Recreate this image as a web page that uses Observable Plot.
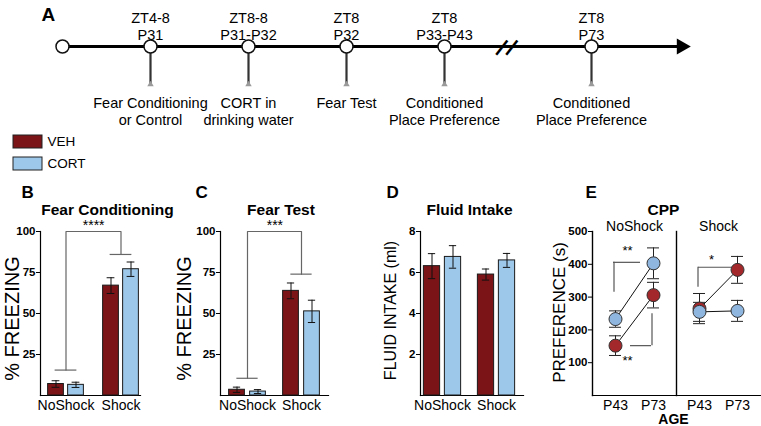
<!DOCTYPE html>
<html><head><meta charset="utf-8">
<script src="https://cdn.jsdelivr.net/npm/d3@7"></script>
<script src="https://cdn.jsdelivr.net/npm/@observablehq/plot@0.6"></script>
<style>
body{margin:0;background:#fff;}
#wrap{position:relative;width:761px;height:426px;overflow:hidden;background:#fff;font-family:"Liberation Sans",Arial,Helvetica,sans-serif;}
#wrap svg{position:absolute;overflow:visible;}
#wrap g[aria-label="y-axis tick label"]{font-weight:bold;}
</style></head><body><div id="wrap"></div>
<script>
// ---------- DATA ----------
const treatments = ["VEH", "CORT"];
const barColors = ["#7b1417", "#9ec8ea"];
const dotColors = ["#a3282b", "#8fb6df"];
const conditions = ["NoShock", "Shock"];

// Timeline (panel A): ordinal schedule slots (gaps are empty slots)
const timelineSlots = ["fc", "gap1", "cort", "gap2", "ft", "gap3", "cpp1", "break", "gap4", "cpp2"];
const tlSlot = ["fc", "cort", "ft", "cpp1", "cpp2"];
const tlZT = ["ZT4-8", "ZT8-8", "ZT8", "ZT8", "ZT8"];
const tlAge = ["P31", "P31-P32", "P32", "P33-P43", "P73"];
const tlWhat = ["Fear Conditioning\nor Control", "CORT in\ndrinking water", "Fear Test", "Conditioned\nPlace Preference", "Conditioned\nPlace Preference"];

// Panel B: Fear Conditioning (% freezing), order NoShock, Shock
const fcVEH = [7, 67], fcVEHerr = [2, 4.8];
const fcCORT = [6.5, 77], fcCORTerr = [1.6, 4.4];
const fcBracket = [["NoShock", 15.5], ["NoShock", 100], ["Shock", 100], ["Shock", 86]];
const fcStars = "****";

// Panel C: Fear Test
const ftVEH = [3.5, 63.8], ftVEHerr = [1.6, 4.8];
const ftCORT = [2.4, 51.3], ftCORTerr = [1.2, 6.8];
const ftBracket = [["NoShock", 10.5], ["NoShock", 100], ["Shock", 100], ["Shock", 74]];
const ftStars = "***";

// Panel D: Fluid intake (ml)
const fiVEH = [6.31, 5.9], fiVEHerr = [0.61, 0.27];
const fiCORT = [6.76, 6.59], fiCORTerr = [0.55, 0.34];

// Panel E: CPP preference (s); order NoShock-P43, NoShock-P73, Shock-P43, Shock-P73
const ages = ["P43", "P73"];
const cppCond = ["NoShock", "NoShock", "Shock", "Shock"];
const cppAge = ["P43", "P73", "P43", "P73"];
const cppVEH = [152, 306, 265, 383], cppVEHerr = [30, 39, 46, 41];
const cppCORT = [233, 403, 255, 258], cppCORTerr = [25, 47, 29, 32];
const cppBracketV = [["NoShock", "P43", 315, 406], ["NoShock", "P73", 152, 249], ["Shock", "P43", 330, 391]];
const cppBracketH = [["NoShock", 406], ["NoShock", 152], ["Shock", 391]];
const cppStars = [["NoShock", 427, "**"], ["NoShock", 94, "**"], ["Shock", 402, "*"]];

// ---------- HELPERS ----------
const FONT = "'Liberation Sans', Arial, Helvetica, sans-serif";
const wrap = document.getElementById("wrap");
function place(el, left, top) {
  el.style.position = "absolute";
  el.style.left = left + "px";
  el.style.top = top + "px";
  el.style.background = "transparent";
  el.style.fontFamily = FONT;
  el.style.overflow = "visible";
  el.style.maxWidth = "none";
  wrap.appendChild(el);
}
function rowsOf(vm, ve, cm, ce) {
  const out = [];
  conditions.forEach((c, i) => {
    out.push({cond: c, trt: "VEH", mean: vm[i], err: ve[i]});
    out.push({cond: c, trt: "CORT", mean: cm[i], err: ce[i]});
  });
  return out;
}

// ---------- PANEL A: timeline ----------
const tlEvents = tlSlot.map((s, i) => ({slot: s, zt: tlZT[i], age: tlAge[i], what: tlWhat[i]}));
const slash = {x: () => "break", y: () => 0, text: () => "|", rotate: 38, fontSize: 19, fontWeight: "bold", lineAnchor: "middle"};
const timeline = Plot.plot({
  width: 761, height: 130, marginLeft: 62, marginRight: 76, marginTop: 0, marginBottom: 0,
  x: {type: "point", domain: timelineSlots, range: [147, 594], padding: 0, axis: null},
  y: {domain: [0, 1], range: [46, 85], axis: null},
  marks: [
    Plot.ruleY([0], {y: d => d, stroke: "#000", strokeWidth: 3, insetRight: 4}),
    Plot.ruleX(tlEvents, {x: "slot", y1: () => 0, y2: () => 1, stroke: "#333", strokeWidth: 2.2}),
    Plot.dot(tlEvents, {x: "slot", y: () => 1, symbol: "triangle", r: 2.4, fill: "#9a9a9a", dy: -1}),
    Plot.dot([0], {y: d => d, frameAnchor: "left", r: 6.5, fill: "white", stroke: "#111", strokeWidth: 1.5}),
    Plot.dot(tlEvents, {x: "slot", y: () => 0, r: 6.5, fill: "white", stroke: "#111", strokeWidth: 1.5}),
    Plot.dot([0], {y: d => d, frameAnchor: "right", symbol: "triangle", rotate: 90, r: 6, fill: "#000", stroke: "none", dx: -4}),
    Plot.text([0], {...slash, dx: 9}),
    Plot.text([0], {...slash, dx: 19}),
    Plot.text(tlEvents, {x: "slot", y: () => 0, text: d => d.zt + "\n" + d.age, lineAnchor: "bottom", dy: -7, fontSize: 14.5, lineHeight: 1.17}),
    Plot.text(tlEvents, {x: "slot", y: () => 1, text: "what", lineAnchor: "top", dy: 10, fontSize: 14.5, lineHeight: 1.17}),
    Plot.text(["A"], {text: d => d, frameAnchor: "top-left", textAnchor: "start", lineAnchor: "bottom", dx: -21, dy: 20, fontSize: 19, fontWeight: "bold"})
  ]
});
place(timeline, 0, 0);

// ---------- Legend ----------
const legend = Plot.plot({
  width: 80, height: 45, marginLeft: 0, marginTop: 0, marginRight: 51, marginBottom: 0,
  x: {axis: null},
  y: {type: "band", domain: treatments, range: [5, 40], paddingInner: 0.41, paddingOuter: 0, axis: null},
  color: {domain: treatments, range: barColors},
  marks: [
    Plot.cell(treatments, {y: d => d, fill: d => d, stroke: "#222", strokeWidth: 1}),
    Plot.text(treatments, {y: d => d, text: d => d, frameAnchor: "right", textAnchor: "start", dx: 5, fontSize: 13.5})
  ]
});
place(legend, 13, 130);

// ---------- Bar panels ----------
function barPanel(p) {
  const step = p.c1 - p.c0, half = step / 2, off = p.gap / 2 + p.bw / 2, capW = 4;
  const veh = p.rows.filter(d => d.trt === "VEH"), cort = p.rows.filter(d => d.trt === "CORT");
  const marks = [
    Plot.frame({anchor: "left", strokeWidth: 1.2}),
    Plot.frame({anchor: "bottom", strokeWidth: 1.2}),
    Plot.axisY({ticks: p.ticks, tickSize: 4, tickPadding: 1, fontSize: 11.5, fontWeight: "bold", label: null}),
    Plot.axisX({tickSize: 0, tickPadding: 5, fontSize: 14, label: null}),
    Plot.barY(veh, {x: "cond", y: "mean", fill: "trt", stroke: "#1a1a1a", strokeWidth: 1, insetLeft: half - p.gap / 2 - p.bw, insetRight: half + p.gap / 2}),
    Plot.barY(cort, {x: "cond", y: "mean", fill: "trt", stroke: "#1a1a1a", strokeWidth: 1, insetLeft: half + p.gap / 2, insetRight: half - p.gap / 2 - p.bw})
  ];
  for (const [data, s] of [[veh, -1], [cort, 1]]) {
    marks.push(Plot.ruleX(data, {x: "cond", y1: d => d.mean - d.err, y2: d => d.mean + d.err, dx: s * off, stroke: "#111", strokeWidth: 1}));
    const insL = s < 0 ? half - off - capW : half + off - capW;
    const insR = s < 0 ? half + off - capW : half - off - capW;
    for (const f of [d => d.mean - d.err, d => d.mean + d.err]) {
      marks.push(Plot.tickY(data, {x: "cond", y: f, insetLeft: insL, insetRight: insR, stroke: "#111", strokeWidth: 1}));
    }
  }
  if (p.bracket) {
    const br = p.bracket.map(([cond, v]) => ({cond, v}));
    marks.push(Plot.line(br, {x: "cond", y: "v", stroke: "#666", strokeWidth: 1.2}));
    marks.push(Plot.tickY([br[0], br[br.length - 1]], {x: "cond", y: "v", insetLeft: half - 11, insetRight: half - 11, stroke: "#666", strokeWidth: 1.2}));
    marks.push(Plot.text([{cond: conditions[0], v: p.yMax, t: p.stars}], {x: "cond", y: "v", text: "t", dx: half, dy: -2, lineAnchor: "bottom", fontSize: 14}));
  }
  marks.push(Plot.text([p.letter], {text: d => d, frameAnchor: "top-left", textAnchor: "start", lineAnchor: "bottom", dx: p.letterDx, dy: -34, fontSize: 17, fontWeight: "bold"}));
  marks.push(Plot.text([p.title], {text: d => d, frameAnchor: "top", textAnchor: "middle", lineAnchor: "bottom", dx: p.titleDx, dy: -17, fontSize: 15.5, fontWeight: "bold"}));
  marks.push(Plot.text([p.ylabel], {text: d => d, frameAnchor: "left", textAnchor: "middle", rotate: -90, lineAnchor: "bottom", dx: p.ylabelDx, dy: p.ylabelDy, fontSize: p.ylabelSize}));
  const chart = Plot.plot({
    width: p.width, height: 246, marginLeft: p.mL, marginRight: p.mR, marginTop: 51, marginBottom: 31,
    x: {type: "band", domain: conditions, range: [p.mL + p.c0 - half, p.mL + p.c1 + half], padding: 0, label: null},
    y: {domain: [0, p.yMax], label: null},
    color: {domain: treatments, range: barColors},
    marks
  });
  place(chart, p.left, 180);
}

barPanel({left: 0, width: 190, mL: 40, mR: 50, c0: 25.5, c1: 80.75, bw: 16, gap: 4, yMax: 100, ticks: [25, 50, 75, 100],
  rows: rowsOf(fcVEH, fcVEHerr, fcCORT, fcCORTerr), bracket: fcBracket, stars: fcStars,
  letter: "B", letterDx: -19, title: "Fear Conditioning", titleDx: 17, ylabel: "% FREEZING", ylabelDx: -22, ylabelDy: 5, ylabelSize: 20});
barPanel({left: 180, width: 190, mL: 40, mR: 42, c0: 26.75, c1: 81.5, bw: 16.5, gap: 4.5, yMax: 100, ticks: [25, 50, 75, 100],
  rows: rowsOf(ftVEH, ftVEHerr, ftCORT, ftCORTerr), bracket: ftBracket, stars: ftStars,
  letter: "C", letterDx: -25, title: "Fear Test", titleDx: 6.5, ylabel: "% FREEZING", ylabelDx: -30, ylabelDy: 5, ylabelSize: 20});
barPanel({left: 370, width: 190, mL: 50, mR: 37, c0: 22, c1: 76.75, bw: 17, gap: 4, yMax: 8, ticks: [2, 4, 6, 8],
  rows: rowsOf(fiVEH, fiVEHerr, fiCORT, fiCORTerr), bracket: null,
  letter: "D", letterDx: -34, title: "Fluid Intake", titleDx: -2.5, ylabel: "FLUID INTAKE (ml)", ylabelDx: -25, ylabelDy: -3, ylabelSize: 16});

// ---------- PANEL E: CPP ----------
const cppRows = [];
cppCond.forEach((c, i) => cppRows.push({cond: c, age: cppAge[i], trt: "VEH", mean: cppVEH[i], err: cppVEHerr[i]}));
cppCond.forEach((c, i) => cppRows.push({cond: c, age: cppAge[i], trt: "CORT", mean: cppCORT[i], err: cppCORTerr[i]}));
const bv = cppBracketV.map(([cond, age, y1, y2]) => ({cond, age, y1, y2}));
const bh = cppBracketH.map(([cond, y]) => ({cond, y, from: ages[0], to: ages[1]}));
const hInsets = [[-2, 13], [15, 2], [-1, 4]];
const bStroke = {stroke: "#555", strokeWidth: 1.2};
const eFirst = [{cond: "NoShock"}];
const cpp = Plot.plot({
  width: 201, height: 246, marginLeft: 32, marginRight: 1, marginTop: 51, marginBottom: 31,
  fx: {domain: conditions, padding: 0, label: null},
  x: {type: "point", domain: ages, padding: 0.6, label: null},
  y: {domain: [0, 500], label: null},
  color: {domain: treatments, range: dotColors},
  marks: [
    Plot.frame({anchor: "left", strokeWidth: 1.4}),
    Plot.frame({anchor: "bottom", strokeWidth: 1.2}),
    Plot.axisFx({anchor: "top", tickSize: 0, tickPadding: 1, fontSize: 14, label: null}),
    Plot.axisX({tickSize: 0, tickPadding: 5, fontSize: 14, label: null}),
    Plot.axisY({ticks: [100, 200, 300, 400, 500], tickSize: 4, tickPadding: 1, fontSize: 11.5, fontWeight: "bold", label: null}),
    Plot.ruleX(bv, {fx: "cond", x: "age", y1: "y1", y2: "y2", dx: -1.5, ...bStroke}),
    ...bh.map((d, i) => Plot.ruleY([d], {fx: "cond", x1: "from", x2: "to", y: "y", insetLeft: hInsets[i][0], insetRight: hInsets[i][1], ...bStroke})),
    Plot.text(cppStars.map(([cond, y, t]) => ({cond, y, t})), {fx: "cond", x: () => ages[0], y: "y", text: "t", dx: 12, lineAnchor: "bottom", fontSize: 13}),
    Plot.line(cppRows, {fx: "cond", x: "age", y: "mean", z: "trt", stroke: "#111", strokeWidth: 1}),
    Plot.ruleX(cppRows, {fx: "cond", x: "age", y1: d => d.mean - d.err, y2: d => d.mean + d.err, stroke: "#222", strokeWidth: 1}),
    Plot.ruleY(cppRows, {fx: "cond", x1: "age", x2: "age", y: d => d.mean - d.err, insetLeft: -6, insetRight: -6, stroke: "#222", strokeWidth: 1}),
    Plot.ruleY(cppRows, {fx: "cond", x1: "age", x2: "age", y: d => d.mean + d.err, insetLeft: -6, insetRight: -6, stroke: "#222", strokeWidth: 1}),
    Plot.dot(cppRows, {fx: "cond", x: "age", y: "mean", fill: "trt", stroke: "#333", strokeWidth: 1, r: 6.5}),
    Plot.text(eFirst, {fx: "cond", text: () => "E", frameAnchor: "top-left", textAnchor: "start", lineAnchor: "bottom", dx: -7, dy: -34, fontSize: 17, fontWeight: "bold"}),
    Plot.text(eFirst, {fx: "cond", text: () => "CPP", frameAnchor: "top-right", textAnchor: "middle", lineAnchor: "bottom", dx: -13, dy: -17, fontSize: 15.5, fontWeight: "bold"}),
    Plot.text(eFirst, {fx: "cond", text: () => "PREFERENCE (s)", frameAnchor: "left", textAnchor: "middle", rotate: -90, lineAnchor: "bottom", dx: -28, dy: -1, fontSize: 17}),
    Plot.text(eFirst, {fx: "cond", text: () => "AGE", frameAnchor: "bottom-right", textAnchor: "middle", lineAnchor: "bottom", dx: -3, dy: 28, fontSize: 14, fontWeight: "bold"})
  ]
});
place(cpp, 560, 180);
</script>
</body></html>
